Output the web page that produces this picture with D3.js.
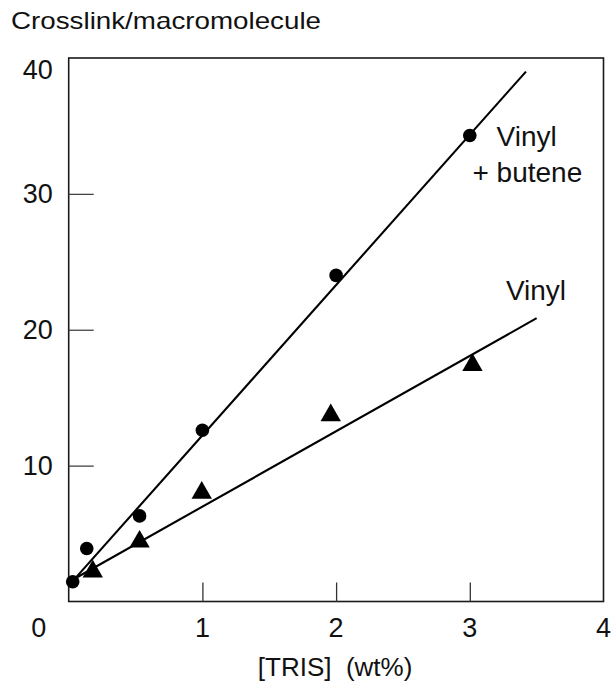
<!DOCTYPE html>
<html>
<head>
<meta charset="utf-8">
<script src="https://cdn.jsdelivr.net/npm/d3@7"></script>
<style>
  body { margin: 0; background: #fff; }
  svg text { font-family: "Liberation Sans", Arial, Helvetica, sans-serif; fill: #111; }
</style>
</head>
<body>
<svg id="chart" width="613" height="683"></svg>
<script>
// data
var xTicks = [1, 2, 3];
var xLabels = [0, 1, 2, 3, 4];
var yTicks = [10, 20, 30];
var yLabels = [10, 20, 30, 40];

var buteneX = [0.03, 0.135, 0.53, 1.0, 2.0, 3.0];
var buteneY = [1.45, 3.9, 6.3, 12.6, 24.0, 34.3];
var vinylX = [0.18, 0.53, 0.995, 1.96, 3.02];
var vinylY = [2.2, 4.4, 8.0, 13.7, 17.4];

// fitted straight lines (start, end)
var buteneFitX = [0.03, 3.42];
var buteneFitY = [1.5, 39.0];
var vinylFitX = [0.03, 3.5];
var vinylFitY = [1.6, 20.85];

var svg = d3.select("#chart");

var x = d3.scaleLinear().domain([0, 4]).range([68.7, 603.5]);
var y = d3.scaleLinear().domain([0, 40]).range([601.5, 58]);

// frame
svg.append("rect")
  .attr("x", x(0)).attr("y", y(40))
  .attr("width", x(4) - x(0)).attr("height", y(0) - y(40))
  .attr("fill", "none").attr("stroke", "#1a1a1a").attr("stroke-width", 1.6);

// inward ticks
svg.append("g")
  .attr("transform", "translate(" + x(0) + ",0)")
  .call(d3.axisLeft(y).tickValues(yTicks).tickSize(-25).tickFormat(""))
  .call(function(g) { g.select(".domain").remove(); })
  .selectAll("line").attr("stroke", "#444").attr("stroke-width", 1.3);

svg.append("g")
  .attr("transform", "translate(0," + y(0) + ")")
  .call(d3.axisBottom(x).tickValues(xTicks).tickSize(-19).tickFormat(""))
  .call(function(g) { g.select(".domain").remove(); })
  .selectAll("line").attr("stroke", "#333").attr("stroke-width", 1.3);

// tick labels
svg.append("g").selectAll("text")
  .data(yLabels)
  .enter()
  .append("text")
  .attr("x", x(0) - 16)
  .attr("y", function(d) { return d == 40 ? y(d) + 21 : y(d) + 9; })
  .attr("text-anchor", "end")
  .style("font-size", "27px")
  .text(function(d) { return d; });

svg.append("g").selectAll("text")
  .data(xLabels)
  .enter()
  .append("text")
  .attr("x", function(d) { return d == 0 ? x(d) - 30 : x(d); })
  .attr("y", y(0) + 35)
  .attr("text-anchor", "middle")
  .style("font-size", "27px")
  .text(function(d) { return d; });

// titles
svg.append("text")
  .attr("x", 11).attr("y", 29)
  .attr("textLength", 310).attr("lengthAdjust", "spacingAndGlyphs")
  .style("font-size", "24px")
  .text("Crosslink/macromolecule");

svg.append("text")
  .attr("x", (x(0) + x(4)) / 2 - 1).attr("y", 676)
  .attr("text-anchor", "middle")
  .style("font-size", "26px")
  .style("white-space", "pre")
  .text("[TRIS]  (wt%)");

// fitted lines
var line = d3.line().x(function(d) { return x(d[0]); }).y(function(d) { return y(d[1]); });
svg.append("path")
  .attr("d", line(d3.zip(buteneFitX, buteneFitY)))
  .attr("fill", "none").attr("stroke", "#000").attr("stroke-width", 2.1);
svg.append("path")
  .attr("d", line(d3.zip(vinylFitX, vinylFitY)))
  .attr("fill", "none").attr("stroke", "#000").attr("stroke-width", 2.1);

// points
svg.append("g").selectAll("circle")
  .data(d3.zip(buteneX, buteneY))
  .enter()
  .append("circle")
  .attr("cx", function(d) { return x(d[0]); })
  .attr("cy", function(d) { return y(d[1]); })
  .attr("r", 6.8)
  .attr("fill", "#000");

svg.append("g").selectAll("path")
  .data(d3.zip(vinylX, vinylY))
  .enter()
  .append("path")
  .attr("d", d3.symbol().type(d3.symbolTriangle).size(180))
  .attr("transform", function(d) { return "translate(" + x(d[0]) + "," + y(d[1]) + ")"; })
  .attr("fill", "#000");

// series labels
svg.append("text").attr("x", x(3.2)).attr("y", y(33.5))
  .style("font-size", "28px").text("Vinyl");
svg.append("text").attr("x", x(3.02)).attr("y", y(30.9))
  .style("font-size", "28px").text("+ butene");
svg.append("text").attr("x", x(3.27)).attr("y", y(22.2))
  .style("font-size", "28px").text("Vinyl");
</script>
</body>
</html>
